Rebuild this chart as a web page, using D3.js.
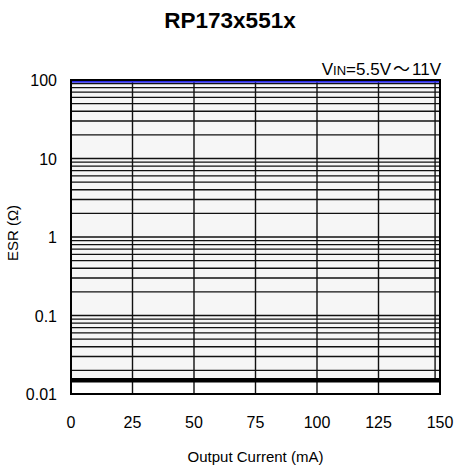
<!DOCTYPE html>
<html><head><meta charset="utf-8">
<script src="https://cdn.jsdelivr.net/npm/d3@7"></script>
<style>body{margin:0;background:#fff}svg{display:block;font-family:"Liberation Sans",Arial,sans-serif}</style>
</head><body><svg id="c" width="455" height="467"></svg>
<script>
const title = "RP173x551x";
const xTicks = [0, 25, 50, 75, 100, 125, 150];
const yTicks = [0.01, 0.1, 1, 10, 100];
const yTickLabels = ["0.01", "0.1", "1", "10", "100"];
const minorMultipliers = [2, 3, 4, 5, 6, 7, 8, 9];
const boundaryX = [0, 150];
const upperESR = [95, 95];
const lowerESR = [0.015, 0.015];
const regionEdgeX = 148;

const svg = d3.select("#c");
const L = 71, R = 440, T = 80, B = 394;
const x = d3.scaleLinear().domain([0, 150]).range([L, R]);
const y = d3.scaleLog().domain([0.01, 100]).range([B, T]);

// stable region fill
svg.append("rect").attr("x", x(0)).attr("y", y(100)).attr("width", x(150) - x(0))
  .attr("height", y(lowerESR[0]) - y(100)).attr("fill", "#f6f6f6");

// horizontal grid
const hLines = [];
for (let k = -2; k <= 1; k++) {
  if (k > -2) hLines.push(Math.pow(10, k));
  minorMultipliers.forEach(m => hLines.push(m * Math.pow(10, k)));
}
svg.append("g").selectAll("line").data(hLines).join("line")
  .attr("x1", x(0)).attr("x2", x(150)).attr("y1", d => y(d)).attr("y2", d => y(d))
  .attr("stroke", "#111").attr("stroke-width", 1.4);

// vertical grid
svg.append("g").selectAll("line").data(xTicks.slice(1, -1)).join("line")
  .attr("x1", d => x(d)).attr("x2", d => x(d)).attr("y1", y(100)).attr("y2", y(0.01))
  .attr("stroke", "#111").attr("stroke-width", 1.4);
svg.append("line").attr("x1", x(regionEdgeX)).attr("x2", x(regionEdgeX))
  .attr("y1", y(100)).attr("y2", y(lowerESR[0])).attr("stroke", "#111").attr("stroke-width", 1.4);

// boundary lines
const line = d3.line().x((d, i) => x(boundaryX[i])).y(d => y(d));
svg.append("path").datum(lowerESR).attr("d", line).attr("stroke", "#000").attr("stroke-width", 4.5).attr("fill", "none");
svg.append("path").datum(upperESR).attr("d", line).attr("stroke", "#2a2ae6").attr("stroke-width", 2.2).attr("fill", "none");

// frame
svg.append("rect").attr("x", L).attr("y", T).attr("width", R - L).attr("height", B - T)
  .attr("fill", "none").attr("stroke", "#000").attr("stroke-width", 2);

// axes labels
svg.append("g").selectAll("text").data(yTicks).join("text")
  .attr("x", L - 14).attr("y", d => y(d) + 6).attr("text-anchor", "end")
  .attr("font-size", 16).text((d, i) => yTickLabels[i]);
svg.append("g").selectAll("text").data(xTicks).join("text")
  .attr("x", d => x(d)).attr("y", B + 34).attr("text-anchor", "middle")
  .attr("font-size", 16).text(d => d);

svg.append("text").attr("x", (L + R) / 2).attr("y", 462).attr("text-anchor", "middle")
  .attr("font-size", 15).text("Output Current (mA)");
svg.append("text").attr("transform", `translate(18,${(T + B) / 2 - 4}) rotate(-90)`)
  .attr("text-anchor", "middle").attr("font-size", 15).text("ESR (Ω)");

svg.append("text").attr("x", 230).attr("y", 28).attr("text-anchor", "middle")
  .attr("font-size", 22.5).attr("font-weight", "bold").text(title);

const leg = svg.append("text").attr("x", R + 1).attr("y", 75).attr("text-anchor", "end").attr("font-size", 17);
leg.append("tspan").text("V");
leg.append("tspan").attr("font-size", 13).text("IN");
leg.append("tspan").text("=5.5V");
leg.append("tspan").attr("font-family", "Noto Sans CJK JP").attr("dx", 2).text("～");
leg.append("tspan").attr("dx", 2).text("11V");
</script></body></html>
